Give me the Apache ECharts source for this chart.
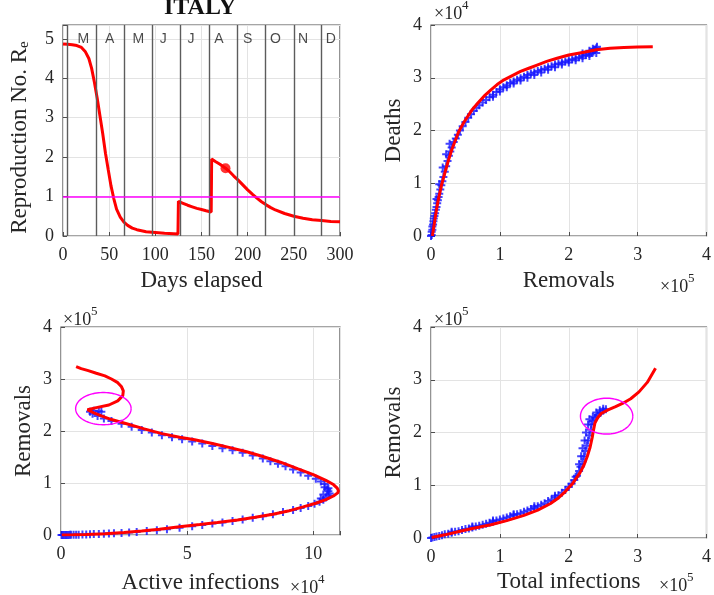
<!DOCTYPE html>
<html>
<head>
<meta charset="utf-8">
<script src="https://cdn.jsdelivr.net/npm/echarts@6.0.0/dist/echarts.min.js"></script>
<style>html,body{margin:0;padding:0;background:#fff}#c{width:714px;height:595px}</style>
</head>
<body>
<div id="c"></div>
<script>
// ---------- Panel 1: effective reproduction number vs days ----------
const reDays   = [0,5,10,15,20,24,28,31,34,37,40,43,46,49,52,55,58,62,66,70,75,80,90,100,110,120,124.5,125,130,135,140,145,150,155,160.5,161,165,170,176,180,185,190,195,200,205,210,215,220,225,230,240,250,260,270,280,290,300];
const reValues = [4.87,4.86,4.85,4.83,4.78,4.68,4.5,4.25,3.9,3.5,3.05,2.6,2.1,1.68,1.27,0.95,0.68,0.48,0.35,0.27,0.2,0.16,0.11,0.09,0.07,0.06,0.05,0.88,0.83,0.78,0.74,0.7,0.67,0.64,0.61,1.95,1.89,1.82,1.72,1.64,1.52,1.41,1.29,1.17,1.06,0.96,0.87,0.79,0.72,0.66,0.57,0.5,0.45,0.41,0.39,0.37,0.36];
const currentDay = [176, 1.72];
const monthStartDays = [5,36,66,97,127,158,189,219,250,280];
const monthNames = ['M','A','M','J','J','A','S','O','N','D'];
const monthLabelDays = [22,50.5,81.5,108.5,138.5,169,200,230,260,290];
const monthLabelLevel = 5.0;
const thresholdRe = 1;

// ---------- Panel 2: deaths (x10^4) vs removals (x10^5) ----------
const deathsModel = [[0.02,0],[0.05,0.25],[0.08,0.5],[0.105,0.68],[0.15,0.95],[0.2,1.19],[0.25,1.42],[0.3,1.63],[0.35,1.8],[0.4,1.97],[0.47,2.14],[0.53,2.26],[0.6,2.4],[0.68,2.52],[0.77,2.65],[0.87,2.77],[0.96,2.87],[1.06,2.96],[1.18,3.04],[1.3,3.12],[1.42,3.18],[1.54,3.24],[1.68,3.31],[1.83,3.37],[2.0,3.43],[2.2,3.48],[2.4,3.53],[2.6,3.56],[2.8,3.575],[3.0,3.585],[3.22,3.59]];
const deathsData = [[0,0],[0.01,0.02],[0.01,0.08],[0.02,0.12],[0.02,0.18],[0.03,0.22],[0.035,0.28],[0.04,0.33],[0.05,0.38],[0.06,0.43],[0.07,0.5],[0.08,0.55],[0.09,0.62],[0.1,0.68],[0.11,0.74],[0.12,0.8],[0.135,0.88],[0.15,0.96],[0.165,1.04],[0.18,1.12],[0.2,1.22],[0.22,1.32],[0.24,1.42],[0.26,1.52],[0.28,1.6],[0.3,1.68],[0.33,1.78],[0.36,1.85],[0.39,1.92],[0.42,2.0],[0.46,2.08],[0.5,2.16],[0.54,2.24],[0.58,2.31],[0.62,2.37],[0.66,2.43],[0.7,2.48],[0.75,2.53],[0.8,2.58],[0.85,2.63],[0.9,2.68],[0.95,2.73],[1.0,2.78],[1.05,2.82],[1.1,2.86],[1.15,2.9],[1.2,2.93],[1.25,2.96],[1.3,2.99],[1.35,3.02],[1.4,3.05],[1.45,3.08],[1.5,3.1],[1.55,3.13],[1.6,3.15],[1.65,3.17],[1.7,3.2],[1.75,3.22],[1.8,3.25],[1.85,3.27],[1.9,3.29],[1.95,3.31],[2.0,3.33],[2.05,3.35],[2.1,3.37],[2.15,3.39],[2.2,3.41],[2.25,3.43],[2.3,3.45],[2.33,3.48],[2.36,3.5],[2.38,3.53],[2.4,3.56],[2.41,3.59],[2.2,3.46],[2.3,3.51],[2.35,3.55],
  [0.08,0.7],[0.12,0.98],[0.17,1.3],[0.22,1.55],[0.27,1.75],[0.9,2.64],[1.0,2.74],[1.1,2.82],[1.2,2.89],[1.3,2.95],[1.4,3.0],[1.5,3.05],[1.6,3.1],[1.7,3.15],[1.8,3.2],[1.9,3.25],[2.0,3.29],[2.1,3.33],[2.2,3.37],[2.3,3.41],[2.4,3.47]];

// ---------- Panel 3: removals (x10^5) vs active infections (x10^4) ----------
const activeModel = [[0.03,0],[0.5,0.005],[1.0,0.012],[1.75,0.025],[2.5,0.05],[3.2,0.075],[3.9,0.11],[4.7,0.16],[5.5,0.2],[6.2,0.24],[7.0,0.29],[7.7,0.34],[8.4,0.4],[9.0,0.46],[9.6,0.54],[10.1,0.61],[10.5,0.68],[10.8,0.75],[10.97,0.81],[11.0,0.85],[10.95,0.9],[10.8,0.97],[10.5,1.05],[10.0,1.16],[9.4,1.27],[8.7,1.4],[8.0,1.51],[7.36,1.6],[6.7,1.68],[6.0,1.76],[5.3,1.83],[4.7,1.88],[4.0,1.95],[3.3,2.04],[2.6,2.14],[2.0,2.22],[1.6,2.29],[1.3,2.35],[1.05,2.41],[1.4,2.45],[1.9,2.5],[2.25,2.58],[2.45,2.68],[2.47,2.77],[2.4,2.85],[2.25,2.93],[2.0,3.0],[1.74,3.06],[1.4,3.11],[1.08,3.16],[0.8,3.2],[0.6,3.24]];
const activeData = [[0.02,0],[0.06,0],[0.1,0],[0.15,0],[0.2,0],[0.25,0],[0.3,0],[0.35,0.003],[0.4,0.003],[0.5,0.005],[0.6,0.005],[0.7,0.007],[0.85,0.01],[1.0,0.012],[1.15,0.015],[1.3,0.017],[1.5,0.02],[1.7,0.025],[1.9,0.03],[2.1,0.035],[2.4,0.04],[2.7,0.05],[3.0,0.06],[3.4,0.075],[3.8,0.09],[4.2,0.11],[4.7,0.14],[5.2,0.17],[5.6,0.19],[6.0,0.22],[6.4,0.24],[6.8,0.27],[7.2,0.3],[7.6,0.33],[8.0,0.36],[8.4,0.4],[8.8,0.44],[9.2,0.48],[9.5,0.52],[9.8,0.56],[10.05,0.6],[10.25,0.64],[10.4,0.68],[10.5,0.72],[10.6,0.76],[10.65,0.8],[10.6,0.84],[10.55,0.88],[10.45,0.92],[10.6,0.9],[10.4,0.78],[10.3,0.7],
  [10.45,0.98],[10.3,1.03],[10.1,1.08],[9.8,1.14],[9.5,1.2],[9.2,1.26],[8.9,1.32],[8.6,1.37],[8.3,1.42],[8.0,1.47],[7.6,1.53],[7.2,1.58],[6.8,1.63],[6.4,1.67],[6.0,1.71],[5.6,1.76],[5.2,1.8],[4.8,1.84],[4.4,1.88],[4.0,1.92],[3.6,1.97],[3.2,2.02],[2.8,2.08],[2.4,2.14],[2.0,2.19],[1.7,2.24],[1.45,2.29],[1.25,2.33],[1.15,2.37],[1.3,2.39],[1.5,2.38],[1.6,2.37]];
const activeEllipse = {cx: 1.68, cy: 2.43, rx: 1.1, ry: 0.31};

// ---------- Panel 4: removals (x10^5) vs total infections (x10^5) ----------
const totalModel = [[0.01,0.01],[0.2,0.06],[0.39,0.12],[0.6,0.18],[0.87,0.25],[1.1,0.33],[1.35,0.43],[1.55,0.53],[1.73,0.65],[1.85,0.76],[1.95,0.88],[2.06,1.04],[2.16,1.23],[2.22,1.38],[2.27,1.55],[2.31,1.72],[2.34,1.9],[2.36,2.05],[2.38,2.18],[2.42,2.28],[2.47,2.36],[2.57,2.43],[2.68,2.49],[2.78,2.55],[2.9,2.64],[3.02,2.77],[3.14,2.95],[3.26,3.22]];
const totalData = [[0,0],[0.02,0.01],[0.05,0.02],[0.08,0.03],[0.12,0.04],[0.16,0.05],[0.2,0.07],[0.25,0.08],[0.3,0.1],[0.35,0.12],[0.4,0.13],[0.45,0.15],[0.5,0.17],[0.55,0.18],[0.6,0.2],[0.65,0.22],[0.7,0.23],[0.75,0.25],[0.8,0.27],[0.85,0.29],[0.9,0.31],[0.95,0.33],[1.0,0.35],[1.05,0.37],[1.1,0.39],[1.15,0.41],[1.2,0.43],[1.25,0.45],[1.3,0.47],[1.35,0.5],[1.4,0.52],[1.45,0.55],[1.5,0.57],[1.55,0.6],[1.6,0.63],[1.65,0.66],[1.7,0.7],[1.75,0.73],[1.8,0.77],[1.85,0.81],[1.9,0.86],[1.95,0.91],[2.0,0.97],[2.04,1.03],[2.08,1.1],[2.12,1.18],[2.15,1.27],[2.17,1.35],[2.2,1.45],[2.22,1.55],[2.24,1.65],[2.26,1.75],[2.28,1.85],[2.3,1.95],[2.32,2.05],[2.33,2.15],[2.35,2.22],[2.38,2.28],[2.42,2.33],[2.46,2.37],[2.5,2.41],[2.54,2.44],
  [0.3,0.12],[0.6,0.22],[0.9,0.33],[1.2,0.45],[1.5,0.6],[1.8,0.8],[2.1,1.16],[2.15,1.4],[2.18,1.55],[2.2,1.7],[2.23,1.85],[2.25,2.0],[2.28,2.15],[2.3,2.25],[2.35,2.3],[2.4,2.38],[2.45,2.42],[2.5,2.45]];
const totalEllipse = {cx: 2.55, cy: 2.31, rx: 0.38, ry: 0.34};

// ---------- styling ----------
const SERIF = "'Liberation Serif','Times New Roman',serif";
const RED = '#ff0000', BLUE = '#1414ff', MAGENTA = '#ff00ff';
const PLUS = 'path://M3,0H5V8H3Z M0,3H8V5H0Z';
const zip = (a, b) => a.map((v, i) => [v, b[i]]);

const grids = [
  {left: 61,  top: 25,  width: 279, height: 211},
  {left: 431, top: 25,  width: 279, height: 211},
  {left: 61,  top: 327, width: 279, height: 211},
  {left: 431, top: 327, width: 279, height: 211}
].map(g => Object.assign({show: true, borderColor: '#4d4d4d', borderWidth: 1.2, backgroundColor: 'transparent', containLabel: false}, g));

function axis(gi, type, o) {
  return Object.assign({
    type: 'value', gridIndex: gi,
    axisLine: {show: false},
    axisTick: {show: true, inside: true, length: 4, lineStyle: {color: '#4d4d4d'}},
    splitLine: {show: true, lineStyle: {color: '#e3e3e3', width: 1}},
    axisLabel: {color: '#262626', fontFamily: SERIF, fontSize: 18, margin: type === 'x' ? 10 : 9},
    nameLocation: 'middle',
    nameTextStyle: {color: '#262626', fontFamily: SERIF, fontSize: 23}
  }, o);
}
const intFmt = v => (Math.abs(v - Math.round(v)) < 1e-9 ? String(Math.round(v)) : '');
const fiveFmt = v => (Math.abs(v / 5 - Math.round(v / 5)) < 1e-9 ? String(Math.round(v)) : '');

const xAxes = [
  axis(0, 'x', {min: 0, max: 300, interval: 50, name: 'Days elapsed', nameGap: 33}),
  axis(1, 'x', {min: 0, max: 4, interval: 1, name: 'Removals', nameGap: 33}),
  axis(2, 'x', {min: 0, max: 11.06, interval: 5, name: 'Active infections', nameGap: 36, axisLabel: {color: '#262626', fontFamily: SERIF, fontSize: 18, margin: 10, formatter: fiveFmt}}),
  axis(3, 'x', {min: 0, max: 4, interval: 1, name: 'Total infections', nameGap: 32})
];
const yAxes = [
  axis(0, 'y', {min: 0, max: 5.35, interval: 1, nameGap: 31,
    axisLabel: {color: '#262626', fontFamily: SERIF, fontSize: 18, margin: 9, formatter: intFmt},
    name: '{a|Reproduction No. R}{b|e}',
    nameTextStyle: {color: '#262626', fontFamily: SERIF, fontSize: 23, padding: [0, 14, 0, 0],
      rich: {a: {fontFamily: SERIF, fontSize: 23, lineHeight: 24, verticalAlign: 'top', color: '#262626'},
             b: {fontFamily: SERIF, fontSize: 15, lineHeight: 14, verticalAlign: 'bottom', padding: [16, 0, 0, 0], color: '#262626'}}}}),
  axis(1, 'y', {min: 0, max: 4, interval: 1, name: 'Deaths', nameGap: 26}),
  axis(2, 'y', {min: 0, max: 4, interval: 1, name: 'Removals', nameGap: 26}),
  axis(3, 'y', {min: 0, max: 4, interval: 1, name: 'Removals', nameGap: 26})
];

function ellipseSeries(gi, e) {
  return {
    type: 'custom', xAxisIndex: gi, yAxisIndex: gi, silent: true, z: 6, clip: false,
    data: [[e.cx, e.cy, e.rx, e.ry]],
    renderItem: (params, api) => {
      const c = api.coord([api.value(0), api.value(1)]);
      const s = api.size([api.value(2), api.value(3)]);
      const pts = [];
      for (let i = 0; i <= 90; i++) {
        const t = i / 90 * 2 * Math.PI;
        pts.push([c[0] + s[0] * Math.cos(t), c[1] + s[1] * Math.sin(t)]);
      }
      return {type: 'polyline', shape: {points: pts}, style: {fill: null, stroke: MAGENTA, lineWidth: 1.4}};
    }
  };
}
function dataSeries(gi, d) {
  return {type: 'scatter', xAxisIndex: gi, yAxisIndex: gi, data: d, symbol: PLUS, symbolSize: 8,
          itemStyle: {color: BLUE}, z: 3, silent: true, clip: false};
}
function modelSeries(gi, d) {
  return {type: 'line', xAxisIndex: gi, yAxisIndex: gi, data: d, showSymbol: false, symbol: 'none',
          lineStyle: {color: RED, width: 3}, z: 4, silent: true, clip: true};
}

function expLabel(left, top, exp) {
  return {type: 'group', left: left, top: top, children: [
    {type: 'text', x: 0, y: 6, style: {text: '\u00d710', font: '18px ' + SERIF, fill: '#262626'}},
    {type: 'text', x: 28, y: 0, style: {text: exp, font: '13px ' + SERIF, fill: '#262626'}}
  ]};
}

const option = {
  animation: false,
  backgroundColor: '#ffffff',
  grid: grids,
  xAxis: xAxes,
  yAxis: yAxes,
  graphic: [
    {type: 'text', x: 200, y: -4, style: {text: 'ITALY', font: 'bold 24px ' + SERIF, fill: '#111', textAlign: 'center', textVerticalAlign: 'top'}},
    expLabel(434, -1, '4'),
    expLabel(660, 272, '5'),
    expLabel(63, 305, '5'),
    expLabel(290, 573, '4'),
    expLabel(434, 305, '5'),
    expLabel(659, 571, '5')
  ],
  series: [
    // month boundaries + threshold R=1
    {type: 'line', xAxisIndex: 0, yAxisIndex: 0, data: [], z: 2, silent: true,
     markLine: {silent: true, symbol: ['none', 'none'], label: {show: false}, animation: false,
       lineStyle: {color: '#5c5c5c', width: 1.4, type: 'solid'},
       data: monthStartDays.map(d => ({xAxis: d}))}},
    {type: 'line', xAxisIndex: 0, yAxisIndex: 0, data: [], z: 3, silent: true,
     markLine: {silent: true, symbol: ['none', 'none'], label: {show: false}, animation: false,
       lineStyle: {color: MAGENTA, width: 1.5, type: 'solid'},
       data: [{yAxis: thresholdRe}]}},
    {type: 'scatter', xAxisIndex: 0, yAxisIndex: 0, symbolSize: 0, silent: true, z: 5,
     data: monthLabelDays.map((d, i) => [d, monthLabelLevel, monthNames[i]]),
     label: {show: true, position: 'inside', formatter: p => p.data[2],
             fontFamily: "'Liberation Sans',Arial,sans-serif", fontSize: 14, color: '#1a1a1a'}},
    {type: 'line', xAxisIndex: 0, yAxisIndex: 0, data: zip(reDays, reValues), showSymbol: false, symbol: 'none',
     lineStyle: {color: RED, width: 3}, z: 4, silent: true},
    {type: 'scatter', xAxisIndex: 0, yAxisIndex: 0, data: [currentDay], symbol: 'circle', symbolSize: 10,
     itemStyle: {color: RED}, z: 6, silent: true},

    dataSeries(1, deathsData), modelSeries(1, deathsModel),
    dataSeries(2, activeData), modelSeries(2, activeModel), ellipseSeries(2, activeEllipse),
    dataSeries(3, totalData), modelSeries(3, totalModel), ellipseSeries(3, totalEllipse)
  ]
};

const chart = echarts.init(document.getElementById('c'), null, {renderer: 'canvas'});
chart.setOption(option);
</script>
</body>
</html>
